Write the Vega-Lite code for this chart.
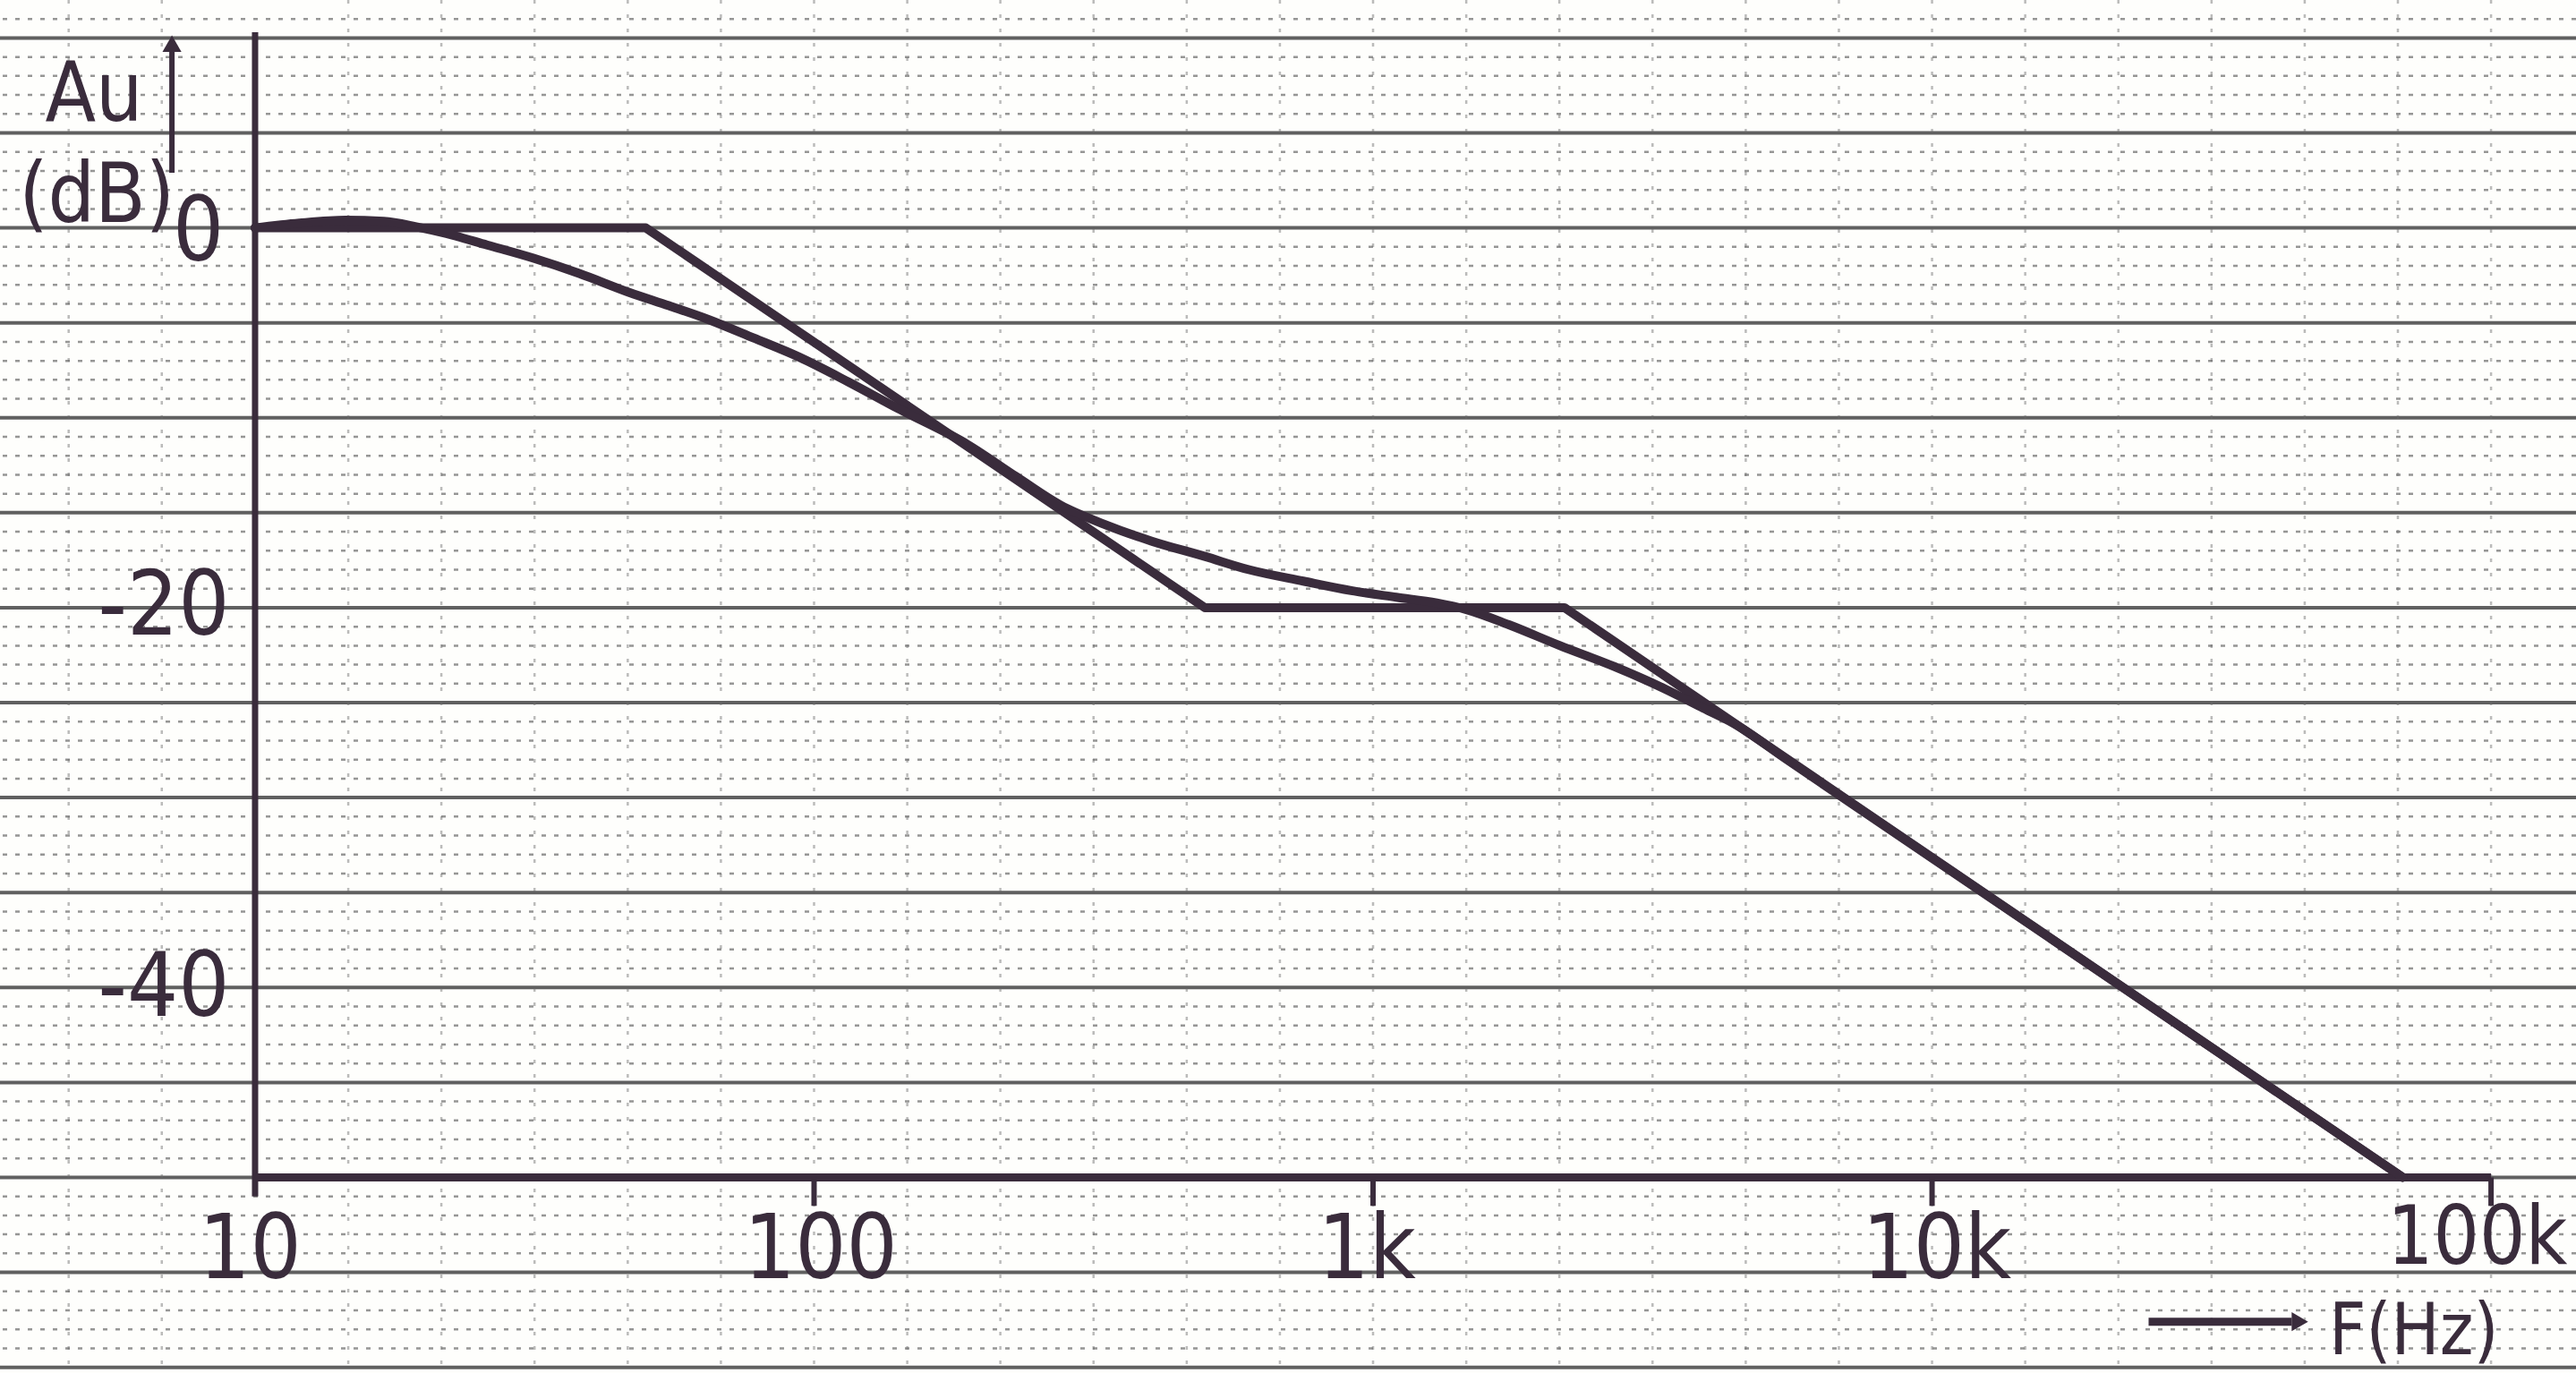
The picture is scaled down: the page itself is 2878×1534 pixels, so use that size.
{
  "$schema": "https://vega.github.io/schema/vega-lite/v6.json",
  "width": 2878,
  "height": 1534,
  "autosize": {"type": "fit", "contains": "padding"},
  "padding": 0,
  "background": "#fefefc",
  "config": {"view": {"stroke": null}},
  "datasets": {
    "hmajor": [{"db": 10}, {"db": 5}, {"db": 0}, {"db": -5}, {"db": -10}, {"db": -15}, {"db": -20}, {"db": -25}, {"db": -30}, {"db": -35}, {"db": -40}, {"db": -45}, {"db": -50}, {"db": -55}, {"db": -60}],
    "hminor": [{"db": 11}, {"db": 9}, {"db": 8}, {"db": 7}, {"db": 6}, {"db": 4}, {"db": 3}, {"db": 2}, {"db": 1}, {"db": -1}, {"db": -2}, {"db": -3}, {"db": -4}, {"db": -6}, {"db": -7}, {"db": -8}, {"db": -9}, {"db": -11}, {"db": -12}, {"db": -13}, {"db": -14}, {"db": -16}, {"db": -17}, {"db": -18}, {"db": -19}, {"db": -21}, {"db": -22}, {"db": -23}, {"db": -24}, {"db": -26}, {"db": -27}, {"db": -28}, {"db": -29}, {"db": -31}, {"db": -32}, {"db": -33}, {"db": -34}, {"db": -36}, {"db": -37}, {"db": -38}, {"db": -39}, {"db": -41}, {"db": -42}, {"db": -43}, {"db": -44}, {"db": -46}, {"db": -47}, {"db": -48}, {"db": -49}, {"db": -51}, {"db": -52}, {"db": -53}, {"db": -54}, {"db": -56}, {"db": -57}, {"db": -58}, {"db": -59}],
    "vgrid": [{"f": 4.64}, {"f": 6.81}, {"f": 14.68}, {"f": 21.54}, {"f": 31.62}, {"f": 46.42}, {"f": 68.13}, {"f": 100}, {"f": 146.8}, {"f": 215.4}, {"f": 316.2}, {"f": 464.2}, {"f": 681.3}, {"f": 1000}, {"f": 1468}, {"f": 2154}, {"f": 3162}, {"f": 4642}, {"f": 6813}, {"f": 10000}, {"f": 14678}, {"f": 21544}, {"f": 31623}, {"f": 46416}, {"f": 68129}, {"f": 100000}],
    "asym": [{"f": 10, "db": 0}, {"f": 50, "db": 0}, {"f": 500, "db": -20}, {"f": 2200, "db": -20}, {"f": 69500, "db": -50}],
    "real": [{"f": 10, "db": 0}, {"f": 12, "db": 0.25}, {"f": 14.5, "db": 0.4}, {"f": 17, "db": 0.35}, {"f": 19.5, "db": 0.05}, {"f": 22, "db": -0.3}, {"f": 26, "db": -0.9}, {"f": 31.5, "db": -1.6}, {"f": 38, "db": -2.4}, {"f": 46.7, "db": -3.4}, {"f": 55, "db": -4.1}, {"f": 64.4, "db": -4.8}, {"f": 78, "db": -5.8}, {"f": 94, "db": -6.8}, {"f": 115, "db": -8.1}, {"f": 141, "db": -9.5}, {"f": 188, "db": -11.4}, {"f": 230, "db": -13.1}, {"f": 276, "db": -14.6}, {"f": 330, "db": -15.6}, {"f": 402, "db": -16.5}, {"f": 500, "db": -17.3}, {"f": 600, "db": -18.0}, {"f": 750, "db": -18.6}, {"f": 914, "db": -19.1}, {"f": 1100, "db": -19.45}, {"f": 1300, "db": -19.75}, {"f": 1470, "db": -20.1}, {"f": 1750, "db": -20.9}, {"f": 2160, "db": -22.0}, {"f": 2700, "db": -23.1}, {"f": 3340, "db": -24.3}, {"f": 3900, "db": -25.3}, {"f": 4420, "db": -26.1}, {"f": 5500, "db": -28.0}, {"f": 69500, "db": -50}],
    "ticks": [{"f": 100, "db": -50, "db2": -51.5}, {"f": 1000, "db": -50, "db2": -51.5}, {"f": 10000, "db": -50, "db2": -51.5}, {"f": 100000, "db": -50, "db2": -51.5}],
    "xlabels": [{"f": 9.8, "db": -53.9, "t": "10"}, {"f": 102.8, "db": -53.9, "t": "100"}, {"f": 975, "db": -53.9, "t": "1k"}, {"f": 10200, "db": -53.9, "t": "10k"}],
    "ylabels": [{"f": 8.8, "db": -0.3, "t": "0"}, {"f": 9.0, "db": -20, "t": "-20"}, {"f": 9.0, "db": -40.1, "t": "-40"}],
    "titles": [{"f": 5.15, "db": 6.97, "t": "Au"}, {"f": 5.21, "db": 1.65, "t": "(dB)"}],
    "heads": [{"f": 7.1, "db": 9.7, "s": "triangle-up"}, {"f": 45500, "db": -57.6, "s": "triangle-right"}]
  },
  "layer": [
    {
      "data": {"name": "hminor"},
      "mark": {"type": "rule", "stroke": "#5e5e5e", "strokeWidth": 2.5, "strokeDash": [5, 9], "opacity": 0.65, "clip": true},
      "encoding": {"y": {"field": "db", "type": "quantitative", "scale": {"domain": [-60.3, 12.0], "nice": false, "zero": false}, "axis": null}}
    },
    {
      "data": {"name": "hmajor"},
      "mark": {"type": "rule", "stroke": "#444444", "strokeWidth": 4, "opacity": 0.85, "clip": true},
      "encoding": {"y": {"field": "db", "type": "quantitative", "scale": {"domain": [-60.3, 12.0], "nice": false, "zero": false}, "axis": null}}
    },
    {
      "data": {"name": "vgrid"},
      "mark": {"type": "rule", "stroke": "#6a6a6a", "strokeWidth": 2.5, "strokeDash": [4, 12], "opacity": 0.45, "clip": true},
      "encoding": {"x": {"field": "f", "type": "quantitative", "scale": {"type": "log", "domain": [3.497, 141900], "nice": false}, "axis": null}}
    },
    {
      "data": {"values": [{"f": 10, "db": 10.3, "db2": -51}]},
      "mark": {"type": "rule", "stroke": "#3a2c3c", "strokeWidth": 7, "clip": true},
      "encoding": {
        "x": {"field": "f", "type": "quantitative", "scale": {"type": "log", "domain": [3.497, 141900], "nice": false}, "axis": null},
        "y": {"field": "db", "type": "quantitative", "scale": {"domain": [-60.3, 12.0], "nice": false, "zero": false}, "axis": null},
        "y2": {"field": "db2"}
      }
    },
    {
      "data": {"values": [{"f": 10, "f2": 100000, "db": -50}]},
      "mark": {"type": "rule", "stroke": "#3a2c3c", "strokeWidth": 9, "clip": true},
      "encoding": {
        "x": {"field": "f", "type": "quantitative", "scale": {"type": "log", "domain": [3.497, 141900], "nice": false}, "axis": null},
        "x2": {"field": "f2"},
        "y": {"field": "db", "type": "quantitative", "scale": {"domain": [-60.3, 12.0], "nice": false, "zero": false}, "axis": null}
      }
    },
    {
      "data": {"name": "ticks"},
      "mark": {"type": "rule", "stroke": "#3a2c3c", "strokeWidth": 6, "clip": true},
      "encoding": {
        "x": {"field": "f", "type": "quantitative", "scale": {"type": "log", "domain": [3.497, 141900], "nice": false}, "axis": null},
        "y": {"field": "db", "type": "quantitative", "scale": {"domain": [-60.3, 12.0], "nice": false, "zero": false}, "axis": null},
        "y2": {"field": "db2"}
      }
    },
    {
      "data": {"name": "asym"},
      "mark": {"type": "line", "stroke": "#3a2c3c", "strokeWidth": 10, "strokeJoin": "round", "strokeCap": "round", "clip": true},
      "encoding": {
        "x": {"field": "f", "type": "quantitative", "scale": {"type": "log", "domain": [3.497, 141900], "nice": false}, "axis": null},
        "y": {"field": "db", "type": "quantitative", "scale": {"domain": [-60.3, 12.0], "nice": false, "zero": false}, "axis": null}
      }
    },
    {
      "data": {"name": "real"},
      "mark": {"type": "line", "stroke": "#3a2c3c", "strokeWidth": 10, "interpolate": "monotone", "strokeJoin": "round", "strokeCap": "round", "clip": true},
      "encoding": {
        "x": {"field": "f", "type": "quantitative", "scale": {"type": "log", "domain": [3.497, 141900], "nice": false}, "axis": null},
        "y": {"field": "db", "type": "quantitative", "scale": {"domain": [-60.3, 12.0], "nice": false, "zero": false}, "axis": null}
      }
    },
    {
      "data": {"values": [{"f": 7.1, "db": 2.9, "db2": 9.6}]},
      "mark": {"type": "rule", "stroke": "#3a2c3c", "strokeWidth": 6, "clip": true},
      "encoding": {
        "x": {"field": "f", "type": "quantitative", "scale": {"type": "log", "domain": [3.497, 141900], "nice": false}, "axis": null},
        "y": {"field": "db", "type": "quantitative", "scale": {"domain": [-60.3, 12.0], "nice": false, "zero": false}, "axis": null},
        "y2": {"field": "db2"}
      }
    },
    {
      "data": {"values": [{"f": 24400, "f2": 44000, "db": -57.6}]},
      "mark": {"type": "rule", "stroke": "#3a2c3c", "strokeWidth": 9, "clip": true},
      "encoding": {
        "x": {"field": "f", "type": "quantitative", "scale": {"type": "log", "domain": [3.497, 141900], "nice": false}, "axis": null},
        "x2": {"field": "f2"},
        "y": {"field": "db", "type": "quantitative", "scale": {"domain": [-60.3, 12.0], "nice": false, "zero": false}, "axis": null}
      }
    },
    {
      "data": {"name": "heads"},
      "mark": {"type": "point", "filled": true, "fill": "#3a2c3c", "opacity": 1, "size": 450, "clip": true},
      "encoding": {
        "x": {"field": "f", "type": "quantitative", "scale": {"type": "log", "domain": [3.497, 141900], "nice": false}, "axis": null},
        "y": {"field": "db", "type": "quantitative", "scale": {"domain": [-60.3, 12.0], "nice": false, "zero": false}, "axis": null},
        "shape": {"field": "s", "type": "nominal", "scale": null, "legend": null}
      }
    },
    {
      "data": {"name": "xlabels"},
      "mark": {"type": "text", "font": "DejaVu Sans Condensed, Liberation Sans Narrow, sans-serif", "fontSize": 100, "fill": "#3a2c3c", "align": "center", "baseline": "middle", "clip": true},
      "encoding": {
        "x": {"field": "f", "type": "quantitative", "scale": {"type": "log", "domain": [3.497, 141900], "nice": false}, "axis": null},
        "y": {"field": "db", "type": "quantitative", "scale": {"domain": [-60.3, 12.0], "nice": false, "zero": false}, "axis": null},
        "text": {"field": "t"}
      }
    },
    {
      "data": {"values": [{"f": 137000, "db": -53.3, "t": "100k"}]},
      "mark": {"type": "text", "font": "DejaVu Sans Condensed, Liberation Sans Narrow, sans-serif", "fontSize": 90, "fill": "#3a2c3c", "align": "right", "baseline": "middle", "clip": true},
      "encoding": {
        "x": {"field": "f", "type": "quantitative", "scale": {"type": "log", "domain": [3.497, 141900], "nice": false}, "axis": null},
        "y": {"field": "db", "type": "quantitative", "scale": {"domain": [-60.3, 12.0], "nice": false, "zero": false}, "axis": null},
        "text": {"field": "t"}
      }
    },
    {
      "data": {"name": "ylabels"},
      "mark": {"type": "text", "font": "DejaVu Sans Condensed, Liberation Sans Narrow, sans-serif", "fontSize": 100, "fill": "#3a2c3c", "align": "right", "baseline": "middle", "clip": true},
      "encoding": {
        "x": {"field": "f", "type": "quantitative", "scale": {"type": "log", "domain": [3.497, 141900], "nice": false}, "axis": null},
        "y": {"field": "db", "type": "quantitative", "scale": {"domain": [-60.3, 12.0], "nice": false, "zero": false}, "axis": null},
        "text": {"field": "t"}
      }
    },
    {
      "data": {"name": "titles"},
      "mark": {"type": "text", "font": "DejaVu Sans Condensed, Liberation Sans Narrow, sans-serif", "fontSize": 92, "fill": "#3a2c3c", "align": "center", "baseline": "middle", "clip": true},
      "encoding": {
        "x": {"field": "f", "type": "quantitative", "scale": {"type": "log", "domain": [3.497, 141900], "nice": false}, "axis": null},
        "y": {"field": "db", "type": "quantitative", "scale": {"domain": [-60.3, 12.0], "nice": false, "zero": false}, "axis": null},
        "text": {"field": "t"}
      }
    },
    {
      "data": {"values": [{"f": 51300, "db": -59.3, "t": "F(Hz)"}]},
      "mark": {"type": "text", "font": "DejaVu Sans Condensed, Liberation Sans Narrow, sans-serif", "fontSize": 80, "fill": "#3a2c3c", "align": "left", "baseline": "alphabetic", "clip": true},
      "encoding": {
        "x": {"field": "f", "type": "quantitative", "scale": {"type": "log", "domain": [3.497, 141900], "nice": false}, "axis": null},
        "y": {"field": "db", "type": "quantitative", "scale": {"domain": [-60.3, 12.0], "nice": false, "zero": false}, "axis": null},
        "text": {"field": "t"}
      }
    }
  ]
}
